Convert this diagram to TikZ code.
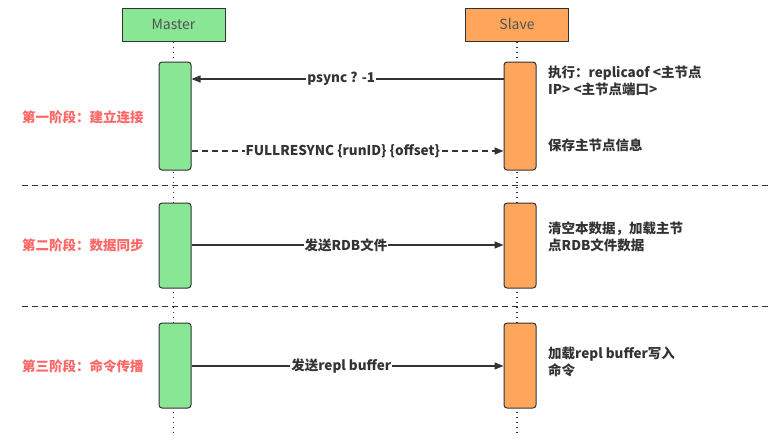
\documentclass[tikz,border=0pt]{standalone}
\usepackage{fontspec}
\setmainfont{Noto Sans CJK SC}
\newfontfamily\headfont{Noto Sans CJK SC}
\usetikzlibrary{arrows.meta}
\definecolor{mgreen}{HTML}{88E695}
\definecolor{sorange}{HTML}{FFA65C}
\definecolor{dark}{HTML}{333333}
\definecolor{phred}{HTML}{FF6666}
\tikzset{
  head/.style={draw=dark, line width=1pt, minimum width=103pt, minimum height=33pt, inner sep=0pt, text=dark!85, font=\headfont\fontsize{14}{16}\selectfont},
  act/.style={draw=dark, line width=1pt, rounded corners=3pt, minimum width=32pt, inner sep=0pt},
  life/.style={dark, line width=1.5pt, dash pattern=on 1.5pt off 3.5pt},
  msg/.style={dark, line width=1.3pt, -{Triangle[length=9pt,width=7pt]}},
  lbl/.style={fill=white, inner sep=1pt, text=dark, font=\bfseries\fontsize{13.5}{16}\selectfont},
  note/.style={anchor=north west, align=left, inner sep=0pt, text=dark, font=\bfseries\fontsize{13.5}{17}\selectfont},
  phase/.style={anchor=west, inner sep=0pt, text=phred, font=\bfseries\fontsize{13.5}{16}\selectfont},
  sep/.style={dark, line width=1pt, dash pattern=on 6pt off 4pt}
}
\begin{document}
\begin{tikzpicture}[x=1pt,y=-1pt]
\useasboundingbox[fill=white] (0,0) rectangle (779,440);
% headers
\node[head, fill=mgreen] (master) at (173.5,24.5) {Master};
\node[head, fill=sorange] (slave) at (517,24.5) {Slave};
\coordinate (mend) at (173.5,436);
\coordinate (send) at (517,436);
\draw[life] (master.south) -- (mend);
\draw[life] (slave.south) -- (send);
% separators
\coordinate (s1a) at (22,185); \coordinate (s1b) at (768,185);
\coordinate (s2a) at (22,306); \coordinate (s2b) at (768,306);
\draw[sep] (s1a) -- (s1b);
\draw[sep] (s2a) -- (s2b);
% activation boxes
\node[act, fill=mgreen, minimum height=108pt] (m1) at (175,116) {};
\node[act, fill=sorange, minimum height=108pt] (s1) at (520,116) {};
\node[act, fill=mgreen, minimum height=85pt] (m2) at (175,245.5) {};
\node[act, fill=sorange, minimum height=85pt] (s2) at (520,245.5) {};
\node[act, fill=mgreen, minimum height=85pt] (m3) at (175,365.5) {};
\node[act, fill=sorange, minimum height=85pt] (s3) at (520,365.5) {};
% messages
\draw[msg] (s1.west |- 0,79) -- node[lbl, pos=0.52] {psync ? -1} (m1.east |- 0,79);
\draw[msg, dash pattern=on 6pt off 4pt] (m1.east |- 0,151) -- node[lbl, pos=0.485] {FULLRESYNC \{runID\} \{offset\}} (s1.west |- 0,151);
\draw[msg] (m2.east |- 0,245) -- node[lbl, pos=0.495] {发送RDB文件} (s2.west |- 0,245);
\draw[msg] (m3.east |- 0,366) -- node[lbl, pos=0.48] {发送repl buffer} (s3.west |- 0,366);
% phases
\node[phase] (p1) at (22,117) {第一阶段：建立连接};
\node[phase] (p2) at (22,245) {第二阶段：数据同步};
\node[phase] (p3) at (22,366) {第三阶段：命令传播};
% notes
\node[note] (n1) at (548,66) {执行：replicaof <主节点\\IP> <主节点端口>};
\node[note] (n2) at (548,139) {保存主节点信息};
\node[note] (n3) at (548,222) {清空本数据，加载主节\\点RDB文件数据};
\node[note] (n4) at (548,347) {加载repl buffer写入\\命令};
\end{tikzpicture}
\end{document}
